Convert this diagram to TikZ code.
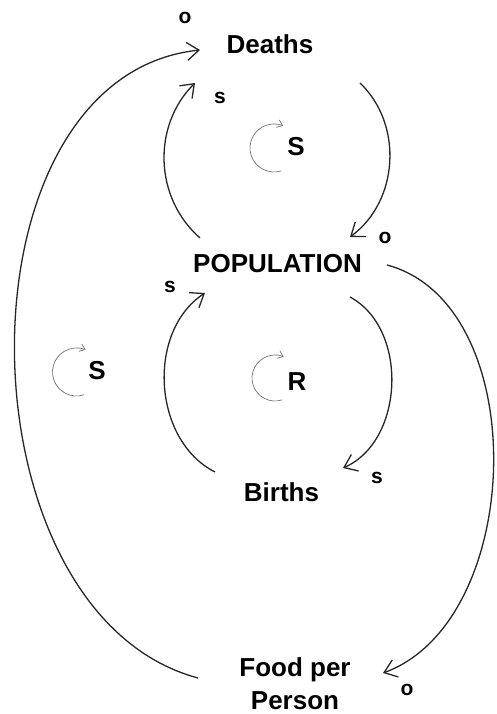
\documentclass[tikz,border=0pt]{standalone}
\usepackage{fontspec}
\setmainfont{Liberation Sans}
\usetikzlibrary{arrows.meta}

\begin{document}
\begin{tikzpicture}[x=1pt, y=1pt,
        var/.style={font=\fontsize{26}{33}\selectfont\bfseries, align=center, inner sep=0pt},
        pol/.style={font=\fontsize{21}{22}\selectfont\bfseries, inner sep=0pt},
        loopname/.style={font=\fontsize{26}{28}\selectfont\bfseries, inner sep=0pt},
        arr/.style={-{Straight Barb[length=12pt,width=18pt]}, line width=1.3pt, black!85},
        looparr/.style={-{Straight Barb[length=5pt,width=8pt]}, line width=0.7pt, black!55}
      ]
        \useasboundingbox (0,0) rectangle (496,714);
        % variables
        \node[var] (deaths) at (270,670) {Deaths};
        \node[var] (pop) at (277.5,450) {POPULATION};
        \node[var] (births) at (281.5,222) {Births};
        \node[var] (food) at (295,30.5) {Food per\\Person};
        % links
        \draw[arr] ([shift={(90,-39)}]deaths.center) to[bend left=50] ([shift={(72.5,27)}]pop.center);
        \draw[arr] ([shift={(-77.5,26)}]pop.center) to[bend left=47] ([shift={(-75,-39)}]deaths.center);
        \draw[arr] ([shift={(72.5,-33)}]pop.center) to[bend left=64] ([shift={(61.5,24)}]births.center);
        \draw[arr] ([shift={(-66.5,20)}]births.center) to[bend left=60] ([shift={(-72.5,-29)}]pop.center);
        \draw[arr] ([shift={(109.5,-1)}]pop.center) to[out=-15, in=20, looseness=0.95] ([shift={(88,10.5)}]food.center);
        \draw[arr] ([shift={(-97,5.5)}]food.center) to[out=165, in=186, looseness=1.02] ([shift={(-70,-6)}]deaths.center);
        % polarities
        \node[pol] (p1) at (185,696) {o};
        \node[pol] (p2) at (220,616) {s};
        \node[pol] (p3) at (385,476) {o};
        \node[pol] (p4) at (170,427) {s};
        \node[pol] (p5) at (377,236) {s};
        \node[pol] (p6) at (407,24) {o};
        % loops
        \node[loopname] (l1) at (296,567) {S};
        \node[loopname] (l2) at (97,343) {S};
        \node[loopname] (l3) at (297,332) {R};
        \draw[looparr] ([shift={(-22,-1)}]l1.center) ++(-72:24) arc[start angle=-72, end angle=-292, radius=24];
        \draw[looparr] ([shift={(-20.5,-1)}]l2.center) ++(-72:24) arc[start angle=-72, end angle=-292, radius=24];
        \draw[looparr] ([shift={(-22,4)}]l3.center) ++(-72:23) arc[start angle=-72, end angle=-292, radius=23];
      \end{tikzpicture}
\end{document}
